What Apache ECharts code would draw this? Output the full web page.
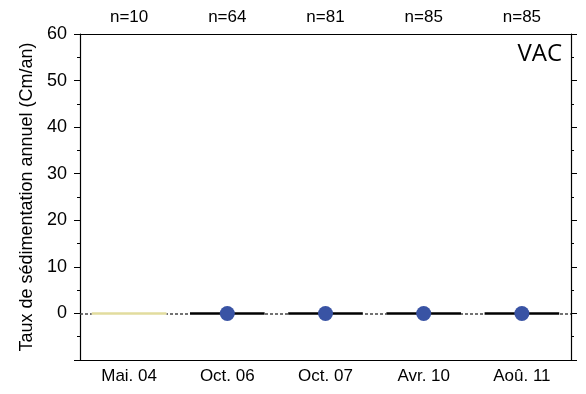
<!DOCTYPE html>
<html>
<head>
<meta charset="utf-8">
<script src="https://cdn.jsdelivr.net/npm/echarts@6/dist/echarts.min.js"></script>
<style>
html, body { margin: 0; padding: 0; background: #fff; }
#chart { width: 586px; height: 394px; }
</style>
</head>
<body>
<div id="chart"></div>
<script>
var dates = ['Mai. 04', 'Oct. 06', 'Oct. 07', 'Avr. 10', 'Aoû. 11'];
var counts = ['n=10', 'n=64', 'n=81', 'n=85', 'n=85'];
// mean rate per campaign (segment), and measured points
var meanRate = [0, 0, 0, 0, 0];
var pointRate = [null, 0, 0, 0, 0];
var segColors = ['#e2dc9e', '#000', '#000', '#000', '#000'];

var myChart = echarts.init(document.getElementById('chart'));
var font = 'Liberation Sans, Arial, sans-serif';

var yCommon = {
    type: 'value',
    min: -10,
    max: 60,
    interval: 10,
    splitLine: { show: false },
    axisLine: { show: true, lineStyle: { color: '#000', width: 1.2 } },
    axisTick: { show: true, inside: false, length: 6, lineStyle: { color: '#000' } },
    minorTick: { show: true, splitNumber: 2, length: 3, lineStyle: { color: '#000' } }
};

option = {
    animation: false,
    grid: { left: 80, right: 15, top: 34, bottom: 34 },
    title: {
        text: 'VAC',
        right: 19,
        top: 37,
        textStyle: { fontFamily: 'Open Sans, sans-serif', fontWeight: 'normal', fontSize: 24, color: '#000' }
    },
    xAxis: [{
        type: 'category',
        data: dates,
        position: 'bottom',
        axisLine: { onZero: false, lineStyle: { color: '#000', width: 1.2 } },
        axisTick: { alignWithLabel: true, length: 6, lineStyle: { color: '#000' } },
        axisLabel: { color: '#000', fontSize: 17, fontFamily: font, margin: 8 }
    }, {
        type: 'category',
        data: counts,
        position: 'top',
        axisLine: { onZero: false, lineStyle: { color: '#000', width: 1.2 } },
        axisTick: { alignWithLabel: true, length: 5, lineStyle: { color: '#000' } },
        axisLabel: { color: '#000', fontSize: 17, fontFamily: font, margin: 8 }
    }],
    yAxis: [Object.assign({}, yCommon, {
        position: 'left',
        name: 'Taux de sédimentation annuel (Cm/an)',
        nameLocation: 'middle',
        nameGap: 44,
        nameTextStyle: { color: '#000', fontSize: 18, fontFamily: font },
        axisLabel: {
            color: '#000', fontSize: 18, fontFamily: font, margin: 13,
            formatter: function (v) { return v < 0 ? '' : v; }
        }
    }), Object.assign({}, yCommon, {
        position: 'right',
        axisLabel: { show: false }
    })],
    series: [{
        type: 'line',
        data: meanRate,
        lineStyle: { opacity: 0 },
        symbol: 'none',
        silent: true,
        markLine: {
            silent: true,
            symbol: 'none',
            label: { show: false },
            lineStyle: { color: '#444', type: [3, 2], width: 1.5 },
            data: [{ yAxis: 0 }]
        },
        z: 1
    }, {
        type: 'custom',
        data: meanRate.map(function (v, i) { return [i, v]; }),
        renderItem: function (params, api) {
            var c = api.coord([api.value(0), api.value(1)]);
            var half = api.size([1, 0])[0] * 0.38;
            var shape = { x1: c[0] - half, y1: c[1], x2: c[0] + half, y2: c[1] };
            // white underlay so the dotted zero line doesn't show through
            return {
                type: 'group',
                children: [{
                    type: 'line', shape: shape,
                    style: { stroke: '#fff', lineWidth: 4 }
                }, {
                    type: 'line', shape: shape,
                    style: { stroke: segColors[params.dataIndex], lineWidth: 2.5 }
                }]
            };
        },
        z: 10
    }, {
        type: 'scatter',
        data: pointRate,
        symbolSize: 15,
        itemStyle: { color: '#3953a4', opacity: 1 },
        z: 11
    }]
};

myChart.setOption(option);
</script>
</body>
</html>
